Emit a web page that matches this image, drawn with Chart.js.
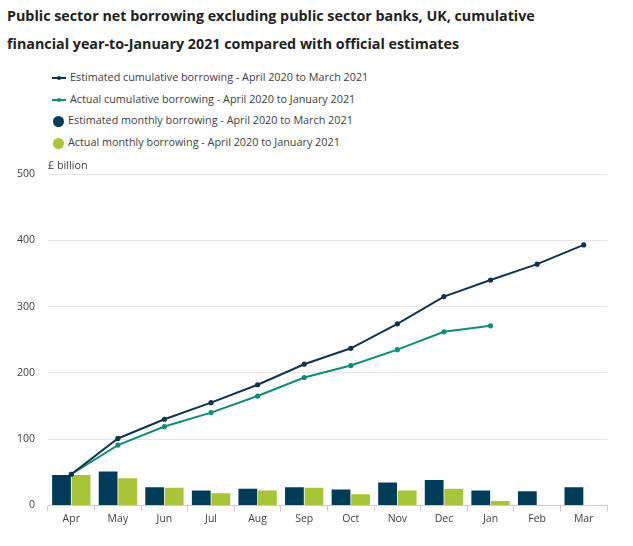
<!DOCTYPE html>
<html>
<head>
<meta charset="utf-8">
<script src="https://cdn.jsdelivr.net/npm/chart.js@4.4.1/dist/chart.umd.min.js"></script>
<style>
	body { margin: 0; background: #fff; font-family: "Open Sans", sans-serif; }
	#wrap { position: relative; width: 633px; height: 546px; overflow: hidden; }
	#titulo { position: absolute; left: 7px; top: 2px; margin: 0; font-size: 14.3px; font-weight: 700; line-height: 28px; color: #222; }
	#legenda { position: absolute; left: 52px; top: 68px; font-size: 10.8px; color: #414042; }
	#legenda div { height: 21.7px; line-height: 18px; white-space: nowrap; }
	.linha { display: inline-block; position: relative; width: 14px; height: 2px; vertical-align: middle; margin-right: 4px; }
	.linha i { position: absolute; left: 5px; top: -1px; width: 4px; height: 4px; border-radius: 50%; }
	.bola { display: inline-block; width: 11px; height: 11px; border-radius: 50%; vertical-align: middle; margin: 0 4px 0 1px; }
	#unidade { position: absolute; left: 48px; top: 157px; font-size: 10.8px; color: #414042; }
	#caixa { position: absolute; left: 0; top: 150px; width: 633px; height: 396px; }
</style>
</head>
<body>
<div id="wrap">
	<h1 id="titulo">Public sector net borrowing excluding public sector banks, UK, cumulative<br>financial year-to-January 2021 compared with official estimates</h1>
	<div id="legenda">
		<div><span class="linha" style="background:#0f3553"><i style="background:#0f3553"></i></span>Estimated cumulative borrowing - April 2020 to March 2021</div>
		<div><span class="linha" style="background:#118c7b"><i style="background:#118c7b"></i></span>Actual cumulative borrowing - April 2020 to January 2021</div>
		<div><span class="bola" style="background:#003c57"></span>Estimated monthly borrowing - April 2020 to March 2021</div>
		<div><span class="bola" style="background:#a8c539"></span>Actual monthly borrowing - April 2020 to January 2021</div>
	</div>
	<div id="caixa"><canvas id="graficoEmprestimos"></canvas></div>
	<div id="unidade">£ billion</div>
</div>
<script>
	var meses = ['Apr', 'May', 'Jun', 'Jul', 'Aug', 'Sep', 'Oct', 'Nov', 'Dec', 'Jan', 'Feb', 'Mar'];
	var cumulativoEstimado = [47, 101, 130, 155, 182, 213, 237, 274, 315, 340, 364, 393];
	var cumulativoReal = [47, 91, 119, 140, 165, 193, 211, 235, 262, 271, null, null];
	var mensalEstimado = [46, 51, 27.5, 22.5, 25, 27.5, 24, 34.5, 38.5, 22.5, 21.5, 27.5];
	var mensalReal = [46, 41, 26.5, 18.5, 22.5, 26.5, 17, 22.5, 25, 6.5, null, null];
	var eixoY = [0, 100, 200, 300, 400, 500];

	var ctx = document.getElementById('graficoEmprestimos').getContext('2d');

	var grafico = new Chart(ctx, {
		type: 'bar',
		data: {
			labels: meses,
			datasets: [{
				type: 'line',
				label: 'Estimated cumulative borrowing - April 2020 to March 2021',
				data: cumulativoEstimado,
				borderColor: '#0f3553',
				backgroundColor: '#0f3553',
				borderWidth: 2,
				pointRadius: 1.6,
				tension: 0,
				order: 0
			},
			{
				type: 'line',
				label: 'Actual cumulative borrowing - April 2020 to January 2021',
				data: cumulativoReal,
				borderColor: '#118c7b',
				backgroundColor: '#118c7b',
				borderWidth: 2,
				pointRadius: 1.6,
				tension: 0,
				order: 0
			},
			{
				label: 'Estimated monthly borrowing - April 2020 to March 2021',
				data: mensalEstimado,
				backgroundColor: '#003c57',
				categoryPercentage: 0.84,
				barPercentage: 0.96,
				order: 1
			},
			{
				label: 'Actual monthly borrowing - April 2020 to January 2021',
				data: mensalReal,
				backgroundColor: '#a8c539',
				categoryPercentage: 0.84,
				barPercentage: 0.96,
				order: 1
			}]
		},
		options: {
			responsive: true,
			maintainAspectRatio: false,
			animation: false,
			layout: { padding: { top: 24, right: 26, left: 0, bottom: 20 } },
			plugins: {
				legend: { display: false },
				tooltip: { enabled: false }
			},
			scales: {
				x: {
					offset: true,
					border: { color: '#cccccc' },
					grid: { drawOnChartArea: false, drawTicks: true, tickLength: 6, color: '#cccccc' },
					ticks: { color: '#414042', font: { family: 'Open Sans', size: 10.5 }, padding: 1 }
				},
				y: {
					min: 0,
					max: 500,
					afterBuildTicks: function(eixo) {
						eixo.ticks = eixoY.map(function(v) { return { value: v }; });
					},
					afterFit: function(eixo) { eixo.width = 48; },
					border: { display: false },
					grid: { color: '#e6e6e6', drawTicks: false },
					ticks: { color: '#414042', font: { family: 'Open Sans', size: 10.5 }, padding: 13 }
				}
			}
		}
	});
</script>
</body>
</html>
